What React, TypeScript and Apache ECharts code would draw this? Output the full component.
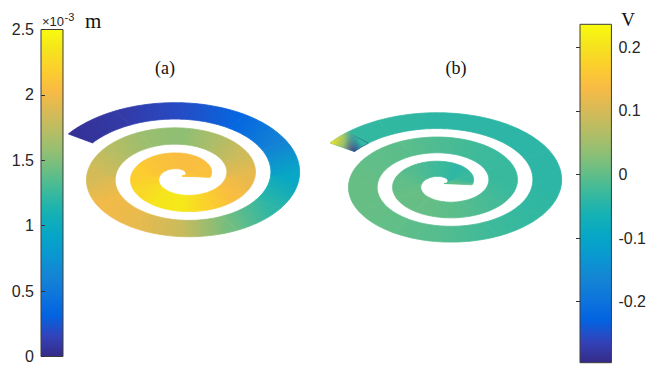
import React, { useEffect, useRef } from "react";
import * as echarts from "echarts";

// Screen angle (degrees) of each sample along the spiral, from the free outer end inward
const spiralAngles = [147, 120, 90, 60, 30, 0, -30, -60, -90, -120, -150, -180, -210, -240, -270, -300, -330, -360, -390, -420, -450, -480, -510, -540, -570, -600, -630, -660, -690, -720, -725];
// (a) displacement along the spiral, ×10^-3 m
const displacement = [0.05, 0.1, 0.2, 0.35, 0.6, 0.95, 1.2, 1.45, 1.8, 1.95, 2.0, 1.85, 1.72, 1.6, 1.55, 1.68, 1.82, 1.95, 2.05, 2.2, 2.38, 2.35, 2.25, 2.18, 2.12, 2.08, 2.05, 2.05, 2.08, 2.1, 2.1];
// (b) voltage along the spiral, V
const voltage = [-0.035, -0.035, -0.04, -0.04, -0.04, -0.04, -0.035, -0.025, -0.01, 0.0, 0.005, 0.005, 0.0, -0.005, -0.015, -0.025, -0.03, -0.03, -0.02, -0.01, 0.0, 0.005, 0.005, 0.0, -0.01, -0.02, -0.03, -0.04, -0.03, -0.005, -0.005];
// (b) free end: angular extent and voltage at its outer corner, middle and inner corner
const voltTipAngles = [147, 136];
const voltTip = [0.2, 0.04, -0.29];

// colour scales
const dispRange = [0, 2.5];
const dispTickStep = 0.5;
const voltRange = [-0.296, 0.236];
const voltTicks = [-0.2, -0.1, 0, 0.1, 0.2];

// parula colormap (every 4th entry of the 64-colour table)
const PARULA = [
  [0.2081, 0.1663, 0.5292], [0.1959, 0.2645, 0.7279], [0.0117, 0.3875, 0.882],
  [0.0498, 0.4586, 0.8641], [0.0793, 0.52, 0.8312], [0.0343, 0.5966, 0.8199],
  [0.0228, 0.6535, 0.7768], [0.0843, 0.6928, 0.7062], [0.2178, 0.725, 0.6193],
  [0.3953, 0.7459, 0.5244], [0.5709, 0.7485, 0.4494], [0.7184, 0.7411, 0.3905],
  [0.8507, 0.7299, 0.336], [0.9739, 0.7314, 0.2666], [0.988, 0.8066, 0.1794],
  [0.9589, 0.8949, 0.1132], [0.9763, 0.9831, 0.0538],
];

const toRgba = (c: number[], alpha = 1) =>
  `rgba(${Math.round(c[0] * 255)},${Math.round(c[1] * 255)},${Math.round(c[2] * 255)},${alpha})`;

function parula(v: number, range: number[], alpha = 1): string {
  let t = (v - range[0]) / (range[1] - range[0]);
  t = Math.max(0, Math.min(1, t));
  const pos = t * (PARULA.length - 1);
  const i = Math.min(PARULA.length - 2, Math.floor(pos));
  const f = pos - i;
  const c = PARULA[i].map((a, k) => a + (PARULA[i + 1][k] - a) * f);
  return toRgba(c, alpha);
}

const parulaStops = PARULA.map((c, i) => ({ offset: i / (PARULA.length - 1), color: toRgba(c) }));

// Archimedean strip seen at an angle: radius of the centre line at screen angle 0 on the outer turn,
// growth per turn and strip width, all in model units
const R_OUTER = 1.0;
const PITCH = 0.43;
const STRIP = 0.28;

function spiralPoint(deg: number, off: number, tilt: number): number[] {
  const phi = (deg * Math.PI) / 180;
  const r = Math.max(0, R_OUTER + (PITCH * phi) / (2 * Math.PI) + off);
  return [r * Math.cos(phi), tilt * r * Math.sin(phi)];
}

function stripOutline(a0: number, a1: number, tilt: number, api: any): number[][] {
  const n = Math.max(2, Math.ceil(Math.abs(a1 - a0) / 2));
  const outer: number[][] = [];
  const inner: number[][] = [];
  for (let j = 0; j <= n; j++) {
    const a = a0 + ((a1 - a0) * j) / n;
    outer.push(api.coord(spiralPoint(a, STRIP / 2, tilt)));
    inner.push(api.coord(spiralPoint(a, -STRIP / 2, tilt)));
  }
  return outer.concat(inner.reverse());
}

function spiralSeries(axis: number, values: number[], range: number[], tilt: number) {
  const data = spiralAngles.slice(0, -1).map((a, i) => [a, spiralAngles[i + 1], values[i], values[i + 1]]);
  return {
    type: "custom",
    coordinateSystem: "cartesian2d",
    xAxisIndex: axis,
    yAxisIndex: axis,
    silent: true,
    z: 2,
    data,
    renderItem: (_p: any, api: any) => {
      const a0 = api.value(0), a1 = api.value(1);
      const p0 = api.coord(spiralPoint(a0, 0, tilt));
      const p1 = api.coord(spiralPoint(a1, 0, tilt));
      const fill = new echarts.graphic.LinearGradient(p0[0], p0[1], p1[0], p1[1], [
        { offset: 0, color: parula(api.value(2), range) },
        { offset: 1, color: parula(api.value(3), range) },
      ], true);
      return {
        type: "polygon",
        shape: { points: stripOutline(a0, a1, tilt, api) },
        style: { fill, stroke: fill, lineWidth: 0.8 },
      };
    },
  };
}

function tipSeries(axis: number, tilt: number) {
  return {
    type: "custom",
    coordinateSystem: "cartesian2d",
    xAxisIndex: axis,
    yAxisIndex: axis,
    silent: true,
    z: 3,
    data: [[voltTipAngles[0], voltTipAngles[1], voltTip[0], voltTip[1], voltTip[2], voltage[0]]],
    renderItem: (_p: any, api: any) => {
      const a0 = api.value(0), a1 = api.value(1);
      const pts = stripOutline(a0, a1, tilt, api);
      const po = api.coord(spiralPoint(a0, STRIP / 2, tilt));
      const pi = api.coord(spiralPoint(a0, -STRIP / 2, tilt));
      const across = new echarts.graphic.LinearGradient(po[0], po[1], pi[0], pi[1], [
        { offset: 0, color: parula(api.value(2), voltRange) },
        { offset: 0.5, color: parula(api.value(3), voltRange) },
        { offset: 1, color: parula(api.value(4), voltRange) },
      ], true);
      const c0 = api.coord(spiralPoint(a0, 0, tilt));
      const c1 = api.coord(spiralPoint(a1, 0, tilt));
      const body = new echarts.graphic.LinearGradient(c0[0], c0[1], c1[0], c1[1], [
        { offset: 0, color: parula(api.value(5), voltRange, 0) },
        { offset: 0.3, color: parula(api.value(5), voltRange, 0) },
        { offset: 1, color: parula(api.value(5), voltRange, 1) },
      ], true);
      return {
        type: "group",
        children: [
          { type: "polygon", shape: { points: pts }, style: { fill: across, stroke: across, lineWidth: 0.6 } },
          { type: "polygon", shape: { points: pts }, style: { fill: body } },
        ],
      };
    },
  };
}

function colorbarSeries(axis: number, range: number[]) {
  return {
    type: "custom",
    coordinateSystem: "cartesian2d",
    xAxisIndex: axis,
    yAxisIndex: axis,
    silent: true,
    z: 1,
    data: [[range[0], range[1]]],
    renderItem: (_p: any, api: any) => {
      const tl = api.coord([0, api.value(1)]);
      const br = api.coord([1, api.value(0)]);
      return {
        type: "rect",
        shape: { x: tl[0], y: tl[1], width: br[0] - tl[0], height: br[1] - tl[1] },
        style: {
          fill: new echarts.graphic.LinearGradient(0, 1, 0, 0, parulaStops),
          stroke: "#3c3c3c",
          lineWidth: 1,
        },
      };
    },
  };
}

const SANS = "'Liberation Sans', Arial, Helvetica, sans-serif";
const SERIF = "'Liberation Serif', 'Times New Roman', serif";
const INK = "#262626";

const hiddenX = (gridIndex: number) => ({ gridIndex, type: "value", min: -1.5, max: 1.5, show: false });
const hiddenY = (gridIndex: number) => ({ gridIndex, type: "value", min: -1, max: 1, show: false });

const label = (text: string, x: number, y: number, font: string, align = "center", fill = "#111") => ({
  type: "text",
  x,
  y,
  z: 10,
  style: { text, font, fill, align, verticalAlign: "middle" },
});

export default function App() {
  const ref = useRef<HTMLDivElement>(null);

  useEffect(() => {
    if (!ref.current) return;
    const chart = echarts.init(ref.current, null, { renderer: "svg" });
    const barAxisLabel = { color: INK, fontSize: 16, fontFamily: SANS, margin: 7 };
    const barTick = { show: true, inside: true, length: 4, lineStyle: { color: "#333", width: 1 } };

    chart.setOption({
      animation: false,
      backgroundColor: "#ffffff",
      grid: [
        { left: 27.5, top: 73, width: 309, height: 206 },
        { left: 289.5, top: 80.5, width: 309, height: 206 },
        { left: 41, top: 29.5, width: 22, height: 327 },
        { left: 580, top: 24.3, width: 32, height: 338.4 },
      ],
      xAxis: [
        hiddenX(0),
        hiddenX(1),
        { gridIndex: 2, type: "value", min: 0, max: 1, show: false },
        { gridIndex: 3, type: "value", min: 0, max: 1, show: false },
      ],
      yAxis: [
        hiddenY(0),
        hiddenY(1),
        {
          gridIndex: 2,
          type: "value",
          position: "left",
          min: dispRange[0],
          max: dispRange[1],
          interval: dispTickStep,
          z: 5,
          axisLine: { show: false },
          axisTick: barTick,
          splitLine: { show: false },
          axisLabel: barAxisLabel,
        },
        {
          gridIndex: 3,
          type: "value",
          position: "right",
          min: voltRange[0],
          max: voltRange[1],
          z: 5,
          axisLine: { show: false },
          axisTick: { ...barTick, customValues: voltTicks },
          splitLine: { show: false },
          axisLabel: { ...barAxisLabel, customValues: voltTicks, formatter: (v: number) => String(v) },
        },
      ],
      series: [
        spiralSeries(0, displacement, dispRange, 0.57),
        spiralSeries(1, voltage, voltRange, 0.55),
        tipSeries(1, 0.55),
        colorbarSeries(2, dispRange),
        colorbarSeries(3, voltRange),
      ],
      graphic: [
        label("(a)", 165, 68, `18px ${SERIF}`),
        label("(b)", 456, 68, `18px ${SERIF}`),
        label("×10", 42, 21.5, `13px ${SANS}`, "left", INK),
        label("-3", 64.5, 16.5, `11px ${SANS}`, "left", INK),
        label("m", 85, 21, `21px ${SERIF}`, "left"),
        label("V", 628, 19.5, `19px ${SERIF}`),
      ],
    });

    return () => chart.dispose();
  }, []);

  return <div ref={ref} style={{ position: "fixed", left: 0, top: 0, width: 649, height: 365 }} />;
}
